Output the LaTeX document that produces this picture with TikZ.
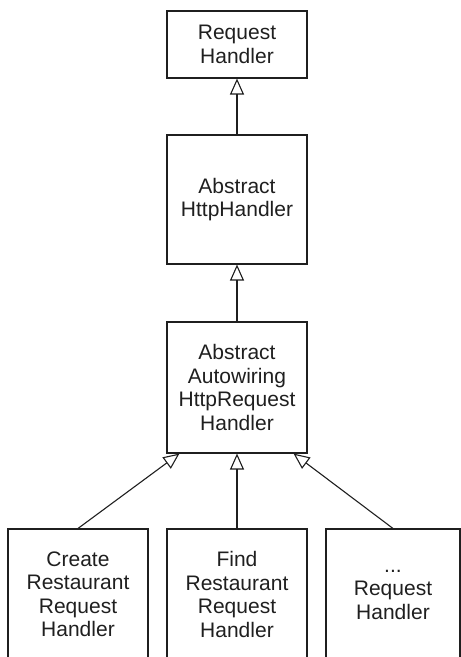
\documentclass[tikz,border=0pt]{standalone}
\usepackage{fontspec}
\setmainfont{Liberation Sans}
\usetikzlibrary{arrows.meta}
\definecolor{ink}{gray}{0.12}
\begin{document}
\begin{tikzpicture}[x=1pt,y=-1pt,
  box/.style={draw=ink, line width=1.1pt, inner sep=0pt, align=center,
    font=\fontsize{21}{23.5}\selectfont, text=ink, minimum width=140pt},
  inherit/.style={draw=ink, line width=1.1pt,
    -{Triangle[open,length=16pt,width=14pt,line width=1.1pt]}}]
\useasboundingbox (0,0) rectangle (461,657);
\clip (0,0) rectangle (461,657);
\node[box, minimum height=67pt] (rh) at (237,44.5) {Request\\Handler};
\node[box, minimum height=129pt] (ahh) at (237,199.5) {Abstract\\HttpHandler};
\node[box, minimum height=131pt] (aahrh) at (237,387.5) {Abstract\\Autowiring\\HttpRequest\\Handler};
\node[box, minimum height=131pt] (crh) at (78,594.5) {Create\\Restaurant\\Request\\Handler};
\node[box, minimum height=131pt] (frh) at (237,594.5) {Find\\Restaurant\\Request\\Handler};
\node[box, minimum height=131pt, minimum width=134pt] (orh) at (393,594.5) {...\\Request\\Handler};
\draw[inherit] (ahh.north) -- (rh.south);
\draw[inherit] (aahrh.north) -- (ahh.south);
\draw[inherit] (crh.north) -- ([xshift=13pt]aahrh.south west);
\draw[inherit] (frh.north) -- (aahrh.south);
\draw[inherit] (orh.north) -- ([xshift=-14pt]aahrh.south east);
\end{tikzpicture}
\end{document}
